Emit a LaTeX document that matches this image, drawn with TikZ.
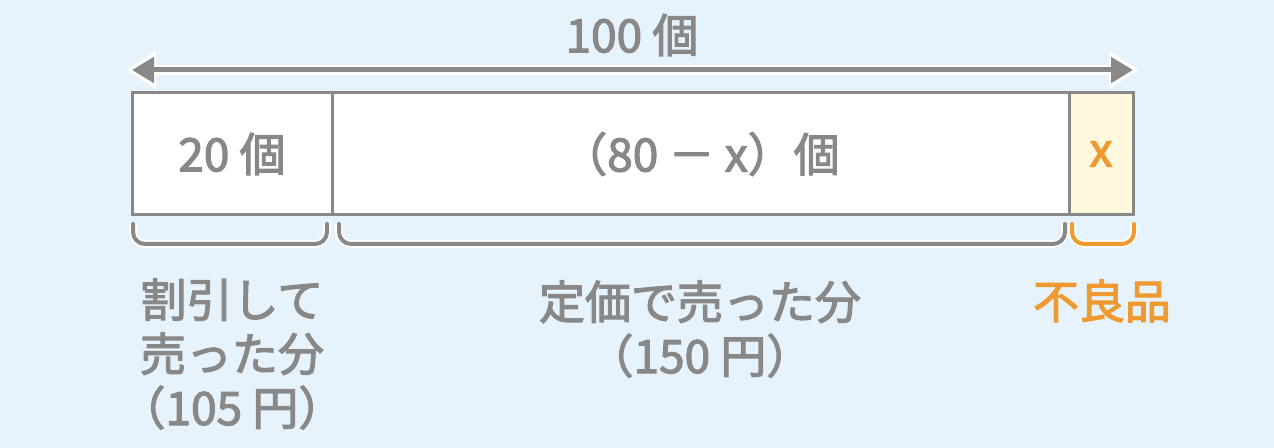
\documentclass[tikz,border=0pt]{standalone}
\usepackage{fontspec}
\setmainfont{Noto Sans CJK JP}[FakeBold=2.5]
\usetikzlibrary{positioning,arrows.meta}
\definecolor{bgblue}{HTML}{E6F3FC}
\definecolor{txtgray}{HTML}{888888}
\definecolor{xorange}{HTML}{EE9A2E}
\definecolor{xcream}{HTML}{FFF8DC}

\begin{document}
\begin{tikzpicture}[x=0.5pt,y=-0.5pt,
  cell/.style={draw=txtgray,line width=1.5pt,fill=white,minimum height=61pt,
    inner sep=0pt,outer sep=0pt,text=txtgray,font=\fontsize{23}{27}\selectfont},
  lbl/.style={text=txtgray,font=\fontsize{23}{27}\selectfont,align=center},
  brc/.style={line width=2pt,line cap=round,rounded corners=6pt,
    preaction={draw=white,line width=3.8pt}},
  arr/.style={txtgray,line width=2.5pt,
    {Triangle[length=11pt,width=12.5pt]}-{Triangle[length=11pt,width=12.5pt]},
    preaction={draw=white,line width=5pt,shorten <=-3pt,shorten >=-3pt,
      {Triangle[length=15pt,width=18pt]}-{Triangle[length=15pt,width=18pt]}}}]

  \useasboundingbox[fill=bgblue] (0,0) rectangle (1274,448);

  % the bar
  \node (cellA) [cell,minimum width=100pt] at (232,154) {20 個};
  \node (cellB) [cell,minimum width=368.5pt,anchor=west] at (cellA.east)
        {（80 － x）個};
  \node (cellC) [cell,minimum width=32pt,anchor=west,fill=xcream,text=xorange]
        at (cellB.east) {x};

  % total length
  \coordinate (arrL) at ([yshift=11.5pt]cellA.north west);
  \coordinate (arrR) at ([yshift=11.5pt]cellC.north east);
  \draw[arr] (arrL) -- (arrR);
  \node (total) [lbl] at (632,35) {100 個};

  % braces under the cells
  \foreach \c/\l/\r/\col in {cellA/0.5/-2.5/txtgray,
                             cellB/3.5/-2/txtgray,
                             cellC/1.5/0.5/xorange} {
    \draw[brc,\col] ([xshift=\l pt,yshift=-4.5pt]\c.south west) --
      ([xshift=\l pt,yshift=-14.5pt]\c.south west) --
      ([xshift=\r pt,yshift=-14.5pt]\c.south east) --
      ([xshift=\r pt,yshift=-4.5pt]\c.south east);
  }

  \node (lblA) [lbl] at (232,354) {割引して\\売った分\\（105 円）};
  \node (lblB) [lbl] at (700,329) {定価で売った分\\（150 円）};
  \node (lblC) [lbl,text=xorange] at (1102,301) {不良品};

\end{tikzpicture}
\end{document}
